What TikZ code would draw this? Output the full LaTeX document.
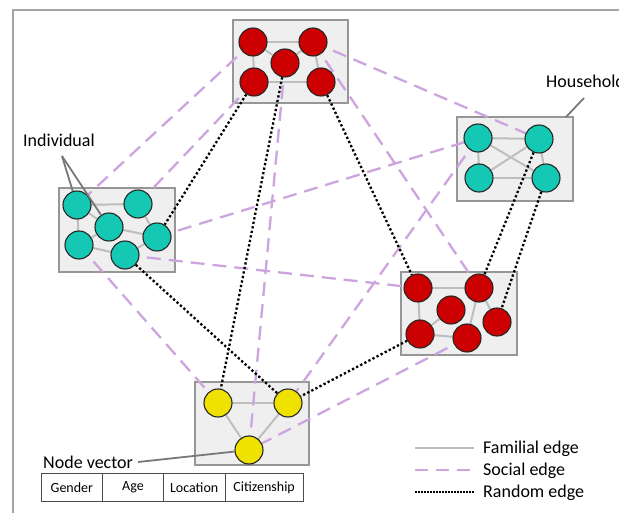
\documentclass[tikz,border=0pt]{standalone}
\usepackage{fontspec}
\setmainfont{Carlito}
\pgfdeclarelayer{bg}
\pgfdeclarelayer{mid}
\pgfsetlayers{bg,mid,main}
\definecolor{redn}{RGB}{204,0,0}
\definecolor{tealn}{RGB}{20,200,180}
\definecolor{yeln}{RGB}{240,226,0}
\definecolor{boxfill}{RGB}{239,239,239}
\definecolor{boxline}{RGB}{150,150,150}
\definecolor{famcol}{RGB}{190,190,190}
\definecolor{soccol}{RGB}{205,165,222}
\definecolor{ptrcol}{RGB}{120,120,120}
\definecolor{framecol}{RGB}{165,165,165}
\tikzset{
  x=1pt, y=-1pt,
  grpbox/.style={draw=boxline, fill=boxfill, line width=1.2pt, minimum width=#1, inner sep=0pt},
  vtx/.style={circle, minimum size=28pt, inner sep=0pt, draw=black!85, line width=1.1pt, fill=#1},
  fam/.style={draw=famcol, line width=2pt},
  soc/.style={draw=soccol, line width=2.3pt, dash pattern=on 14pt off 8pt},
  rnd/.style={draw=black, line width=2.3pt, dash pattern=on 2.3pt off 2.3pt},
  ptr/.style={draw=ptrcol, line width=1.8pt},
  lbl/.style={font=\fontsize{18}{20}\selectfont, inner sep=0pt},
  cell/.style={draw=black!70, line width=0.9pt, minimum height=28pt, minimum width=#1, inner sep=0pt, font=\fontsize{14}{16}\selectfont},
}
\begin{document}
\begin{tikzpicture}
\useasboundingbox (0,0) rectangle (619,513);
% frame
\draw[framecol, line width=2pt] (13,513) -- (13,10) -- (619,10);

% group boxes
\begin{pgfonlayer}{bg}
\node[grpbox=115pt, minimum height=83pt] (bT) at (290.5,61.5) {};
\node[grpbox=116pt, minimum height=84pt] (bH) at (515,159) {};
\node[grpbox=116pt, minimum height=84pt] (bI) at (117,230) {};
\node[grpbox=116pt, minimum height=83pt] (bR) at (459,313.5) {};
\node[grpbox=114pt, minimum height=83pt] (bY) at (252,423.5) {};
\end{pgfonlayer}

% vertices
\node[vtx=redn] (t1) at (253,42) {};
\node[vtx=redn] (t2) at (313,42) {};
\node[vtx=redn] (t3) at (285,63) {};
\node[vtx=redn] (t4) at (254,82) {};
\node[vtx=redn] (t5) at (321,82) {};

\node[vtx=tealn] (h1) at (478,138) {};
\node[vtx=tealn] (h2) at (539,139) {};
\node[vtx=tealn] (h3) at (479,178) {};
\node[vtx=tealn] (h4) at (546,178) {};

\node[vtx=tealn] (i1) at (77,205) {};
\node[vtx=tealn] (i2) at (138,204) {};
\node[vtx=tealn] (i3) at (109,227) {};
\node[vtx=tealn] (i4) at (157,237) {};
\node[vtx=tealn] (i5) at (79,245) {};
\node[vtx=tealn] (i6) at (125,255) {};

\node[vtx=redn] (r1) at (418,288) {};
\node[vtx=redn] (r2) at (479,288) {};
\node[vtx=redn] (r3) at (451,310) {};
\node[vtx=redn] (r4) at (497,322) {};
\node[vtx=redn] (r5) at (420,334) {};
\node[vtx=redn] (r6) at (467,338) {};

\node[vtx=yeln] (y1) at (218,403) {};
\node[vtx=yeln] (y2) at (288,403) {};
\node[vtx=yeln] (y3) at (249,450) {};

\begin{pgfonlayer}{mid}
% familial edges
\foreach \a/\b in {t1/t2,t1/t3,t3/t2,t1/t4,t2/t5,t4/t5,
  h1/h2,h1/h3,h1/h4,h2/h3,h2/h4,h3/h4,
  i1/i2,i1/i5,i1/i3,i2/i4,i3/i4,i3/i5,i5/i6,i6/i4,
  r1/r2,r1/r5,r2/r6,r2/r4,r5/r6,r5/r3,
  y1/y2,y1/y3,y2/y3}
  \draw[fam] (\a.center) -- (\b.center);
% social edges
\foreach \a/\b in {t1/i1,t4/i2,t2/h2,t2/r2,t3/y3,i4/h1,i6/r1,i5/y1,h1/y2,r6/y3}
  \draw[soc] (\a.center) -- (\b.center);
% random edges
\foreach \a/\b in {t4/i4,t3/y1,t5/r1,i6/y2,h2/r2,h4/r4,r5/y2}
  \draw[rnd] (\a) -- (\b);
\end{pgfonlayer}

% labels and pointers
\node[lbl, anchor=base west] (lI) at (23,147) {Individual};
\coordinate (pI) at (62,156);
\draw[ptr] (pI) -- (i1);
\draw[ptr] (pI) -- (i3);

\node[lbl, anchor=base west] (lH) at (546,88) {Household};
\coordinate (pH) at (584,98);
\coordinate (pHe) at (566,117);
\draw[ptr] (pH) -- (pHe);

\node[lbl, anchor=base west] (lN) at (43,468) {Node vector};
\coordinate (pN) at (138,462);
\draw[ptr] (pN) -- (y3);

% node vector table
\node[cell=61.7pt] (c1) at (71.85,487.5) {Gender};
\node[cell=60.6pt] (c2) at (133,487.5) {Age};
\node[cell=61.7pt] (c3) at (194.15,487.5) {Location};
\node[cell=78.3pt] (c4) at (264.15,487.5) {Citizenship};

% legend
\coordinate (f1) at (415,448); \coordinate (f2) at (474,448);
\coordinate (s1) at (415,470); \coordinate (s2) at (474,470);
\coordinate (d1) at (415,492); \coordinate (d2) at (474,492);
\draw[fam] (f1) -- (f2);
\draw[soc, dash pattern=on 13pt off 8pt] (s1) -- (s2);
\draw[black, line width=1.5pt, dash pattern=on 1.5pt off 1.5pt] (d1) -- (d2);
\node[lbl, anchor=west] (tf) at (483,449) {Familial edge};
\node[lbl, anchor=west] (ts) at (483,471) {Social edge};
\node[lbl, anchor=west] (td) at (483,493) {Random edge};
\end{tikzpicture}
\end{document}
